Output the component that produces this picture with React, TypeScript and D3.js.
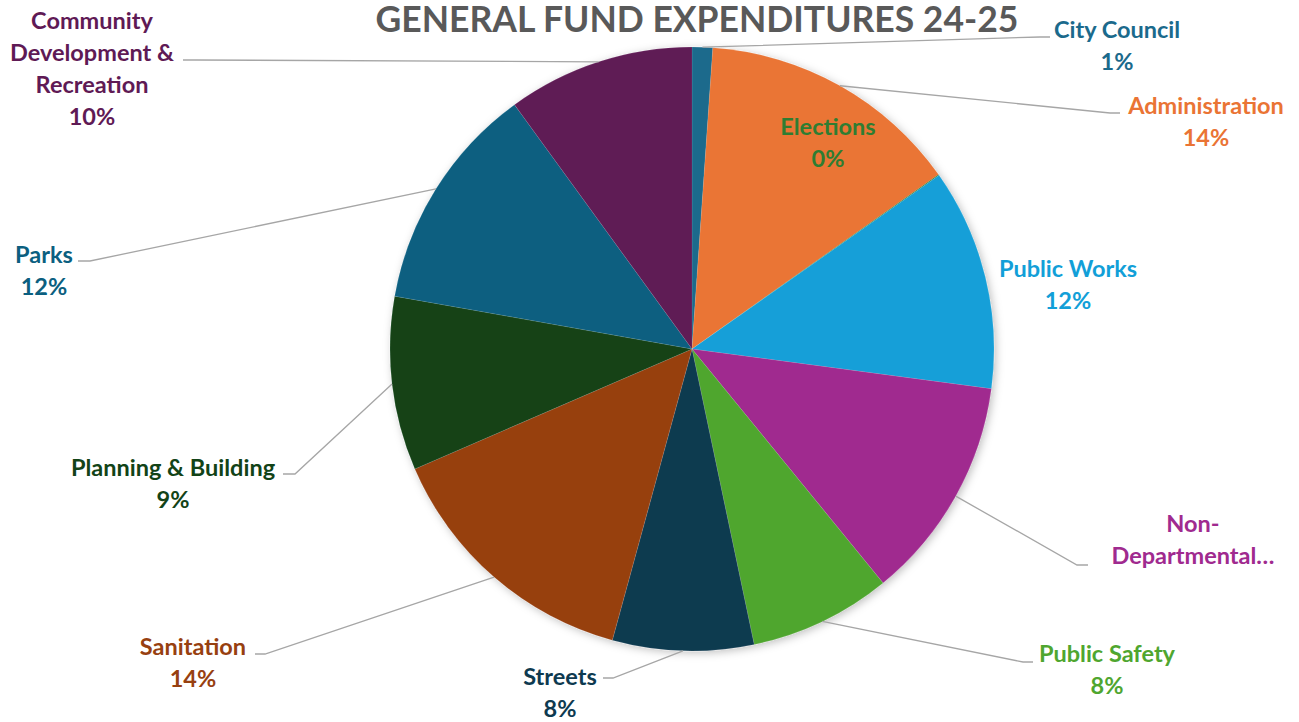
import React from 'react';
import * as d3 from 'd3';

// --- DATA ---
const categories = [
    'City Council', 'Administration', 'Elections', 'Public Works', 'Non-Departmental',
    'Public Safety', 'Streets', 'Sanitation', 'Planning & Building', 'Parks',
    'Community Development & Recreation',
];
const shares = [1.1, 14.1, 0.05, 11.85, 12.0, 7.6, 7.55, 14.25, 9.3, 12.2, 10.0];
const colors = [
    '#1b6a8c', '#ea7434', '#2e7d32', '#129fd8', '#a02a8f',
    '#4fa62f', '#0e3a50', '#974010', '#124317', '#0b5f80', '#5f1a55',
];
const labelLines = [
    ['City Council'], ['Administration'], ['Elections'], ['Public Works'], ['Non-', 'Departmental…'],
    ['Public Safety'], ['Streets'], ['Sanitation'], ['Planning & Building'], ['Parks'],
    ['Community', 'Development &', 'Recreation'],
];

// --- LAYOUT (label placement, leader elbows) ---
const LABELS: { x: number; y: number; elbow?: [number, number]; end?: [number, number]; hideValue?: boolean }[] = [
    { x: 1117, y: 29, elbow: [1040, 37], end: [1050, 37] },
    { x: 1206, y: 105, elbow: [1110, 113], end: [1120, 113] },
    { x: 828, y: 126 },
    { x: 1068, y: 268 },
    { x: 1193, y: 523, elbow: [1077, 565], end: [1088, 565], hideValue: true },
    { x: 1107, y: 653, elbow: [1023, 662], end: [1033, 662] },
    { x: 560, y: 676, elbow: [613, 678], end: [603, 678] },
    { x: 193, y: 646, elbow: [265, 654], end: [255, 654] },
    { x: 173, y: 467, elbow: [295, 474], end: [283, 474] },
    { x: 44, y: 254, elbow: [90, 261], end: [78, 261] },
    { x: 92, y: 20, elbow: [195, 60], end: [183, 60] },
];

const W = 1299;
const H = 722;
const CX = 692;
const CY = 349;
const R = 302;
const FONT = 'Lato, "Open Sans", sans-serif';

const App: React.FC = () => {
    const total = d3.sum(shares);
    const pie = d3.pie<number>().sort(null).value(d => d);
    const slices = pie(shares);
    const arc = d3.arc<d3.PieArcDatum<number>>().innerRadius(0).outerRadius(R);
    const edge = d3.arc<d3.PieArcDatum<number>>().innerRadius(R).outerRadius(R);
    const fmt = (v: number) => `${Math.round((v / total) * 100)}%`;

    return (
        <svg width={W} height={H} style={{ position: 'absolute', left: 0, top: 0, background: '#fff' }}>
            <defs>
                <filter id="shadow" x="-10%" y="-10%" width="120%" height="120%">
                    <feDropShadow dx="2" dy="2" stdDeviation="4" floodColor="#000" floodOpacity="0.25" />
                </filter>
            </defs>

            <text x={697} y={32} textAnchor="middle" fill="#595959" fontFamily={FONT}
                fontWeight={700} fontSize={35.5}>GENERAL FUND EXPENDITURES 24-25</text>

            <g transform={`translate(${CX},${CY})`}>
                <g filter="url(#shadow)">
                    {slices.map((s, i) => (
                        <path key={categories[i]} d={arc(s) ?? ''} fill={colors[i]}
                            stroke="#fff" strokeOpacity={0.2} strokeWidth={0.5} />
                    ))}
                </g>
                {slices.map((s, i) => {
                    const L = LABELS[i];
                    if (!L.elbow || !L.end) return null;
                    const [sx, sy] = edge.centroid(s);
                    const pts: [number, number][] = [
                        [sx, sy],
                        [L.elbow[0] - CX, L.elbow[1] - CY],
                        [L.end[0] - CX, L.end[1] - CY],
                    ];
                    return (
                        <path key={'l' + i} d={d3.line()(pts) ?? ''} fill="none"
                            stroke="#a6a6a6" strokeWidth={1.3} />
                    );
                })}
            </g>

            {categories.map((c, i) => {
                const L = LABELS[i];
                const lines = L.hideValue ? labelLines[i] : [...labelLines[i], fmt(shares[i])];
                return (
                    <text key={'t' + c} textAnchor="middle" fill={colors[i]} fontFamily={FONT}
                        fontWeight={700} fontSize={23.5}>
                        {lines.map((ln, j) => (
                            <tspan key={j} x={L.x} y={L.y + j * 32} dominantBaseline="central">{ln}</tspan>
                        ))}
                    </text>
                );
            })}
        </svg>
    );
};

export default App;
